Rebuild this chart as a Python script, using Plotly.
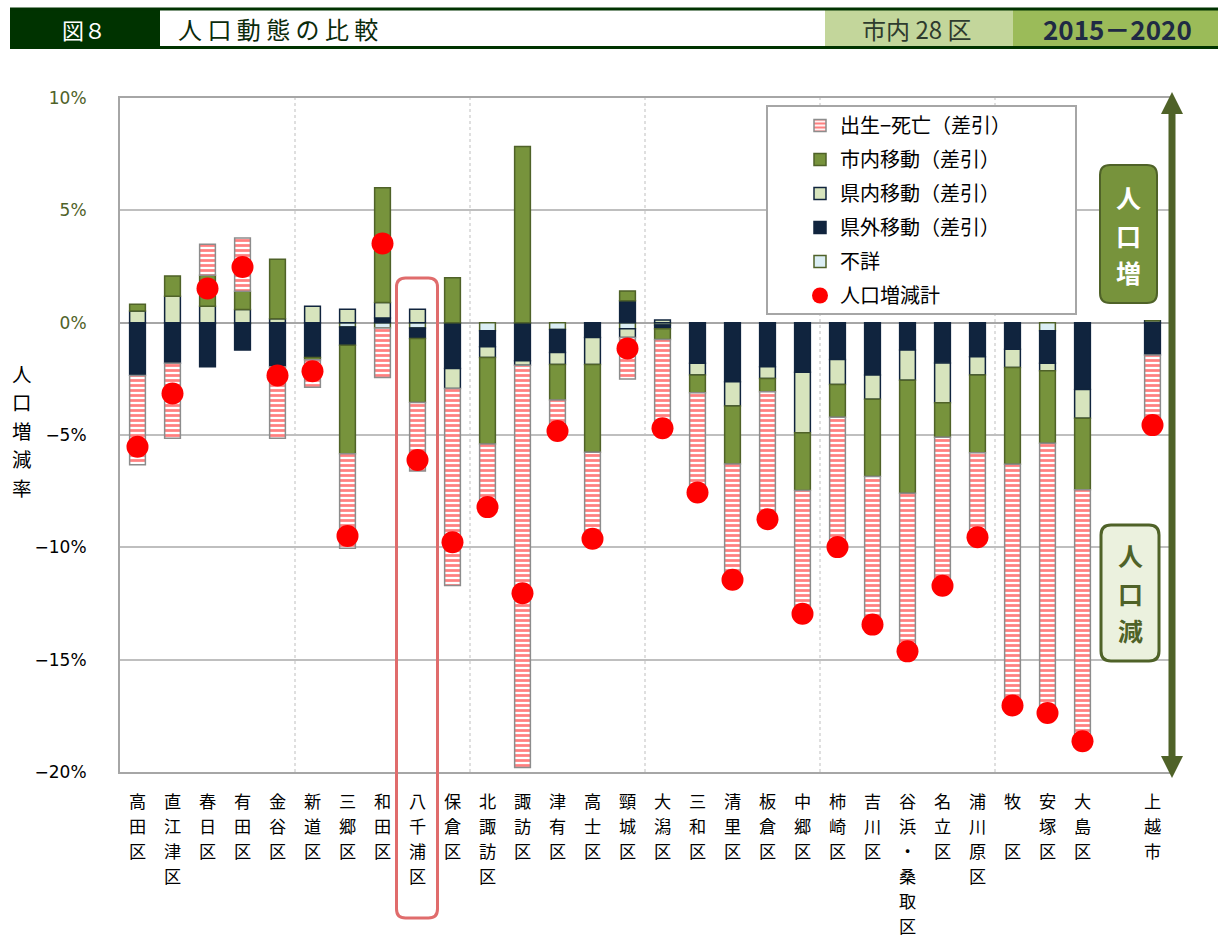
import plotly.graph_objects as go

# ---------------- data ----------------
districts = ["高田区", "直江津区", "春日区", "有田区", "金谷区", "新道区", "三郷区", "和田区",
             "八千浦区", "保倉区", "北諏訪区", "諏訪区", "津有区", "高士区", "頸城区", "大潟区",
             "三和区", "清里区", "板倉区", "中郷区", "柿崎区", "吉川区", "谷浜・桑取区", "名立区",
             "浦川原区", "牧　区", "安塚区", "大島区", "上越市"]

# 出生-死亡（差引）
natural = [-3.97, -3.34, 1.38, 2.37, -3.19, -1.23, -4.20, -2.20, -3.05, -8.77, -2.80, -17.90,
           -1.38, -3.85, -1.85, -4.07, -4.44, -5.15, -5.68, -5.49, -5.78, -6.59, -7.04, -6.61,
           -3.76, -10.74, -12.00, -11.19, -3.20]
# 市内移動（差引）
in_city = [0.30, 0.90, 1.38, 0.81, 2.65, -0.10, -4.84, 5.10, -2.85, 2.00, -3.85, 7.84,
           -1.58, -3.91, 0.44, -0.48, -0.79, -2.58, -0.59, -2.57, -1.46, -3.44, -5.03, -1.54,
           -3.46, -4.31, -3.23, -3.18, 0.00]
# 県内移動（差引）
in_pref = [0.52, 1.18, 0.73, 0.59, 0.17, 0.73, 0.60, 0.69, 0.60, -0.89, -0.48, -0.20,
           -0.53, -1.20, -0.39, 0.12, -0.52, -1.08, -0.52, -2.69, -1.11, -1.08, -1.34, -1.77,
           -0.81, -0.81, -0.33, -1.29, 0.08]
# 県外移動（差引）
out_pref = [-2.35, -1.81, -1.91, -1.17, -1.96, -1.55, -0.81, 0.21, -0.46, -2.04, -0.71, -1.70,
            -1.03, -0.66, 0.97, -0.17, -1.81, -2.63, -1.96, -2.21, -1.64, -2.33, -1.22, -1.79,
            -1.52, -1.18, -1.45, -2.97, -1.44]
# 不詳
unknown = [0.00, 0.00, -0.05, -0.05, 0.00, 0.00, -0.19, -0.24, -0.24, 0.00, -0.36, 0.00,
           -0.30, 0.00, -0.27, -0.10, 0.00, 0.00, 0.00, 0.00, 0.00, 0.00, 0.00, 0.00,
           0.00, 0.00, -0.36, 0.00, 0.00]
# 人口増減計
total = [-5.52, -3.15, 1.52, 2.48, -2.35, -2.16, -9.49, 3.52, -6.11, -9.77, -8.21, -12.04,
         -4.82, -9.62, -1.15, -4.70, -7.56, -11.44, -8.75, -12.96, -9.99, -13.44, -14.63, -11.71,
         -9.55, -17.04, -17.37, -18.63, -4.56]

y_tickvals = [10, 5, 0, -5, -10, -15, -20]
y_ticklabels = ["10%", "5%", "0%", "−5%", "−10%", "−15%", "−20%"]

# positions: 28 districts, one empty slot, then 上越市
positions = list(range(len(districts) - 1)) + [len(districts)]

# ---------------- geometry helpers (layout only) ----------------
W, H = 1220, 938
L, R, T, B = 120, 1170, 98, 772
FONT = "Noto Sans CJK JP"


def fx(p):
    return (p - L) / (R - L)


def fy(p):
    return (B - p) / (B - T)


def rrect(x0, y0, x1, y1, r):
    X, Y = fx, fy
    return (f"M{X(x0 + r)},{Y(y0)} L{X(x1 - r)},{Y(y0)} Q{X(x1)},{Y(y0)} {X(x1)},{Y(y0 + r)} "
            f"L{X(x1)},{Y(y1 - r)} Q{X(x1)},{Y(y1)} {X(x1 - r)},{Y(y1)} L{X(x0 + r)},{Y(y1)} "
            f"Q{X(x0)},{Y(y1)} {X(x0)},{Y(y1 - r)} L{X(x0)},{Y(y0 + r)} Q{X(x0)},{Y(y0)} {X(x0 + r)},{Y(y0)} Z")


def label(text, x, y, size, color, xanchor="center", family=FONT):
    return dict(text=text, x=fx(x), y=fy(y), xref="paper", yref="paper", showarrow=False,
                xanchor=xanchor, yanchor="middle", borderpad=0,
                font=dict(family=family, size=size, color=color))


fig = go.Figure()

bw = 0.45
fig.add_trace(go.Bar(x=positions, y=unknown, name="不詳", width=bw, legendrank=5,
                     legendgroup="g5",
                     marker=dict(color="#dbeef4", line=dict(color="#4f6228", width=1.5))))
fig.add_trace(go.Bar(x=positions, y=out_pref, name="県外移動（差引）", width=bw, legendrank=4,
                     legendgroup="g4",
                     marker=dict(color="#10243e", line=dict(color="#10243e", width=1.5))))
fig.add_trace(go.Bar(x=positions, y=in_pref, name="県内移動（差引）", width=bw, legendrank=3,
                     legendgroup="g3",
                     marker=dict(color="#d7e4bd", line=dict(color="#10243e", width=1.5))))
fig.add_trace(go.Bar(x=positions, y=in_city, name="市内移動（差引）", width=bw, legendrank=2,
                     legendgroup="g2",
                     marker=dict(color="#77933c", line=dict(color="#4f6228", width=1.5))))
fig.add_trace(go.Bar(x=positions, y=natural, name="出生−死亡（差引）", width=bw, legendrank=1,
                     legendgroup="g1",
                     marker=dict(color="white", line=dict(color="#8c8c8c", width=1.5),
                                 pattern=dict(shape="-", fgcolor="#ff0000", bgcolor="white",
                                              size=5, solidity=0.55))))
fig.add_trace(go.Scatter(x=positions, y=total, name="人口増減計", mode="markers", legendrank=6,
                         legendgroup="g6", cliponaxis=False,
                         marker=dict(color="#ff0000", size=22, symbol="circle")))

shapes = []
# vertical dotted grid every 5 categories
for v in [4.5, 9.5, 14.5, 19.5, 24.5]:
    shapes.append(dict(type="line", xref="x", yref="paper", x0=v, x1=v, y0=0, y1=1,
                       line=dict(color="#bfbfbf", width=1, dash="dot"), layer="below"))

# header
shapes += [
    dict(type="rect", xref="paper", yref="paper", x0=fx(10), x1=fx(160), y0=fy(48), y1=fy(8),
         fillcolor="#003300", line=dict(width=0)),
    dict(type="rect", xref="paper", yref="paper", x0=fx(825), x1=fx(1013), y0=fy(48), y1=fy(8),
         fillcolor="#c3d69b", line=dict(width=0)),
    dict(type="rect", xref="paper", yref="paper", x0=fx(1013), x1=fx(1218), y0=fy(48), y1=fy(8),
         fillcolor="#9bbb59", line=dict(width=0)),
    dict(type="line", xref="paper", yref="paper", x0=fx(10), x1=fx(1218), y0=fy(9), y1=fy(9),
         line=dict(color="#003300", width=3)),
    dict(type="line", xref="paper", yref="paper", x0=fx(10), x1=fx(1218), y0=fy(47.5), y1=fy(47.5),
         line=dict(color="#003300", width=3)),
]

# legend box
shapes.append(dict(type="rect", xref="paper", yref="paper", x0=fx(767), x1=fx(1076),
                   y0=fy(314), y1=fy(106), fillcolor="white",
                   line=dict(color="#a6a6a6", width=2), layer="above"))

# double arrow
acx = 1172
shapes += [
    dict(type="line", xref="paper", yref="paper", x0=fx(acx), x1=fx(acx), y0=fy(110), y1=fy(760),
         line=dict(color="#4f6228", width=7)),
    dict(type="path", xref="paper", yref="paper",
         path=f"M{fx(acx - 11)},{fy(114)} L{fx(acx)},{fy(92)} L{fx(acx + 11)},{fy(114)} Z",
         fillcolor="#4f6228", line=dict(width=0)),
    dict(type="path", xref="paper", yref="paper",
         path=f"M{fx(acx - 11)},{fy(756)} L{fx(acx)},{fy(778)} L{fx(acx + 11)},{fy(756)} Z",
         fillcolor="#4f6228", line=dict(width=0)),
]

# 人口増 / 人口減 boxes
shapes.append(dict(type="path", xref="paper", yref="paper", path=rrect(1100, 165, 1157, 303, 10),
                   fillcolor="#77933c", line=dict(color="#4f6228", width=2)))
shapes.append(dict(type="path", xref="paper", yref="paper", path=rrect(1101, 525, 1159, 661, 10),
                   fillcolor="#ebf1de", line=dict(color="#4f6228", width=3)))

# highlight around 八千浦区
hi = districts.index("八千浦区")
hcx = L + (positions[hi] + 0.5) * (R - L) / 30
shapes.append(dict(type="path", xref="paper", yref="paper",
                   path=rrect(hcx - 21, 278, hcx + 20, 918, 9),
                   line=dict(color="#e06c6c", width=3), fillcolor="rgba(0,0,0,0)"))

annotations = [
    label("図８", 84, 29, 22, "white"),
    label("人 口 動 態 の 比 較", 177, 29, 24, "#0b2a0b", xanchor="left"),
    label("市内 28 区", 916, 29, 24, "#2e3b2e"),
    label("<b>2015－2020</b>", 1117, 29, 26, "#1f2a44"),
]
# vertical category labels (one character per line)
for pos, name in zip(positions, districts):
    for k, ch in enumerate(name):
        if ch == "　":
            continue
        annotations.append(dict(text=ch, x=pos, xref="x", y=fy(800 + 25.1 * k), yref="paper",
                                showarrow=False, xanchor="center", yanchor="middle", borderpad=0,
                                font=dict(family=FONT, size=17.2, color="black")))
for i, ch in enumerate("人口増減率"):
    annotations.append(label(ch, 22, 373 + 28.5 * i, 19.5, "black"))
for ch, yy in zip("人口増", [197, 235, 272]):
    annotations.append(label(f"<b>{ch}</b>", 1128.5, yy, 25, "white"))
for ch, yy in zip("人口減", [555, 593, 630]):
    annotations.append(label(f"<b>{ch}</b>", 1130, yy, 25, "#4f6228"))

y_ticktext = [f'<span style="color:#4f6228">{t}</span>' if v >= 0 else t
              for v, t in zip(y_tickvals, y_ticklabels)]

fig.update_layout(
    width=W, height=H,
    margin=dict(l=L, r=W - R, t=T, b=H - B, autoexpand=False),
    paper_bgcolor="white", plot_bgcolor="white",
    barmode="relative",
    font=dict(family=FONT, color="black"),
    shapes=shapes,
    annotations=annotations,
    legend=dict(x=fx(800), y=fy(106), xanchor="left", yanchor="top",
                bgcolor="rgba(0,0,0,0)", borderwidth=0, tracegroupgap=5,
                font=dict(family=FONT, size=20, color="black")),
    xaxis=dict(range=[-0.5, 29.5], showticklabels=False,
               showgrid=False, zeroline=False, showline=True, linecolor="#a6a6a6",
               linewidth=2, mirror=True, ticks="", automargin=False),
    yaxis=dict(range=[-20, 10], tickmode="array", tickvals=y_tickvals, ticktext=y_ticktext,
               showgrid=True, gridcolor="#bfbfbf", gridwidth=1.5,
               zeroline=True, zerolinecolor="#a6a6a6", zerolinewidth=2,
               showline=True, linecolor="#a6a6a6", linewidth=2, ticks="",
               ticklabelstandoff=28, automargin=False,
               tickfont=dict(family="DejaVu Sans", size=17, color="black")),
)

fig.write_html("out.html", config={"displayModeBar": False},
               post_script="document.body.style.margin='0';document.body.style.overflow='hidden';")
